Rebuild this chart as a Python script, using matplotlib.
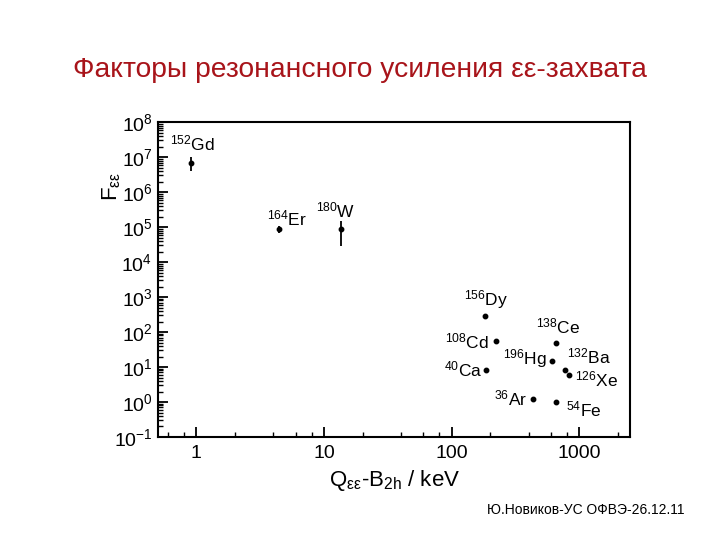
import numpy as np
import matplotlib
matplotlib.use("Agg")
import matplotlib.pyplot as plt
from matplotlib.ticker import FixedLocator, LogLocator, NullFormatter

# ========================================
# FONTS
# ========================================
plt.rcParams["font.family"] = ["Liberation Sans", "DejaVu Sans"]
plt.rcParams["mathtext.fontset"] = "custom"
plt.rcParams["mathtext.rm"] = "Liberation Sans"
plt.rcParams["mathtext.it"] = "Liberation Sans:italic"
plt.rcParams["mathtext.bf"] = "Liberation Sans:bold"
plt.rcParams["axes.unicode_minus"] = False

# ========================================
# DATA
# ========================================
nuclides = ["152Gd", "164Er", "180W", "156Dy", "108Cd", "40Ca",
            "138Ce", "196Hg", "132Ba", "126Xe", "36Ar", "54Fe"]
q_minus_b = [0.9, 4.4, 13.6, 183, 223, 184,
             660, 610, 770, 835, 430, 660]
factor = [7.0e6, 8.7e4, 8.7e4, 290, 54, 8.4,
          49, 15, 8.2, 6.0, 1.2, 0.98]

# vertical error bars (only for the three left points)
err_names = ["152Gd", "164Er", "180W"]
err_low = [4.0e6, 6.8e4, 2.8e4]
err_high = [1.0e7, 1.07e5, 1.5e5]

# label offsets in pixels: (dx, dy, ha)
label_offsets = {
    "152Gd": (-21, 19, "left"),
    "164Er": (-12, 11, "left"),
    "180W": (-25, 19, "left"),
    "156Dy": (-21, 16, "left"),
    "108Cd": (-7, 0, "right"),
    "40Ca": (-3, 0, "right"),
    "138Ce": (-20, 16, "left"),
    "196Hg": (-5, 2, "right"),
    "132Ba": (2, 14, "left"),
    "126Xe": (6, -5, "left"),
    "36Ar": (-5, 1, "right"),
    "54Fe": (10, -7, "left"),
}

x_major = [1, 10, 100, 1000]
x_minor = [0.6, 0.8, 2, 4, 6, 8, 20, 40, 60, 80,
           200, 400, 600, 800, 2000]


def split_name(name):
    mass = "".join(c for c in name if c.isdigit())
    sym = "".join(c for c in name if not c.isdigit())
    return mass, sym


# ========================================
# FIGURE
# ========================================
fig = plt.figure(figsize=(7.2, 5.4), dpi=100)
ax = fig.add_axes([0.2194, 0.1907, 0.656, 0.583])

ax.set_xscale("log")
ax.set_yscale("log")
ax.set_xlim(0.5, 2500)
ax.set_ylim(0.1, 1e8)

# error bars
for name, lo, hi in zip(err_names, err_low, err_high):
    i = nuclides.index(name)
    ax.vlines(q_minus_b[i], lo, hi, color="black", linewidth=1.3)

# points
ax.plot(q_minus_b, factor, linestyle="none", marker="o",
        markersize=3.2, color="black")

# labels
for name, x, y in zip(nuclides, q_minus_b, factor):
    mass, sym = split_name(name)
    dx, dy, ha = label_offsets[name]
    ax.annotate(
        r"$^{\mathrm{" + mass + "}}$" + sym,
        xy=(x, y),
        xytext=(dx, dy),
        textcoords="offset pixels",
        ha=ha,
        va="center",
        fontsize=12.5,
    )

# ticks
ax.xaxis.set_major_locator(FixedLocator(x_major))
ax.set_xticklabels([str(v) for v in x_major])
ax.xaxis.set_minor_locator(FixedLocator(x_minor))
ax.xaxis.set_minor_formatter(NullFormatter())

ax.yaxis.set_major_locator(LogLocator(base=10, numticks=20))
ax.yaxis.set_minor_locator(LogLocator(base=10, subs=np.arange(2, 10), numticks=20))
ax.yaxis.set_minor_formatter(NullFormatter())

ax.tick_params(which="major", direction="in", length=7, width=1.3,
               labelsize=14, top=False, right=False)
ax.tick_params(which="minor", direction="in", length=3.5, width=1.0,
               top=False, right=False)
ax.tick_params(axis="y", pad=4)
ax.tick_params(axis="x", pad=6)

for spine in ax.spines.values():
    spine.set_linewidth(1.5)

ax.set_xlabel(r"Q$_{\mathrm{εε}}$-B$_{\mathrm{2h}}$ / keV", fontsize=16, labelpad=4)
fig.text(0.155, 0.655, r"F$_{\mathrm{εε}}$", rotation=90, fontsize=16,
         ha="center", va="center")

# title and footer
fig.text(0.5, 0.870, "Факторы резонансного усиления εε-захвата",
         color="#a8141a", fontsize=20.3, ha="center", va="center")
fig.text(0.813, 0.055, "Ю.Новиков-УС ОФВЭ-26.12.11",
         fontsize=10, ha="center", va="center")

fig.savefig("out.png", dpi=100)
